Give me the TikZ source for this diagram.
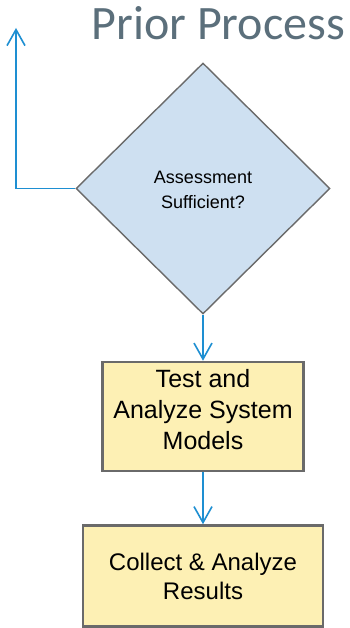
\documentclass[tikz,border=0pt]{standalone}
\usepackage{fontspec}
\setmainfont{Liberation Sans}
\newfontfamily\titlefont{Carlito}
\usetikzlibrary{shapes.geometric,arrows.meta}
\definecolor{flowblue}{HTML}{1E8FD2}
\definecolor{dfill}{HTML}{CEE0F1}
\definecolor{bfill}{HTML}{FDF0B4}
\definecolor{bord}{HTML}{6A6A6A}
\definecolor{titlecol}{HTML}{5B6F7B}
\tikzset{
  flow/.style={draw=flowblue, line width=1.6pt, -{Straight Barb[length=16pt,width=18pt,line width=1.6pt]}},
  decision/.style={diamond, draw=bord, line width=1.4pt, fill=dfill, minimum width=254pt, minimum height=251pt, inner sep=0pt},
  dtext/.style={align=center, inner sep=0pt, font=\fontsize{18}{25}\selectfont},
  procbox/.style={rectangle, draw=bord, line width=2.6pt, fill=bfill, inner sep=0pt},
  ptext/.style={align=center, inner sep=0pt},
}
\begin{document}
\begin{tikzpicture}[x=1pt,y=-1pt]
\useasboundingbox (0,0) rectangle (350,628);
\fill[white] (0,0) rectangle (350,628);
\node[anchor=base east, text=titlecol, font=\titlefont\fontsize{48}{52}\selectfont, inner sep=0pt] (title) at (345,40) {Prior Process};
\node[decision] (dec) at (203,188.5) {};
\node[dtext] (dect) at (203,190) {Assessment\\Sufficient?};
\node[procbox, minimum width=201pt, minimum height=109pt] (b1) at (203,416.5) {};
\node[ptext, font=\fontsize{25}{31}\selectfont] (b1t) at (203,410) {Test and\\Analyze System\\Models};
\node[procbox, minimum width=240pt, minimum height=101pt] (b2) at (203,576) {};
\node[ptext, font=\fontsize{24}{29}\selectfont] (b2t) at (203,576) {Collect \& Analyze\\Results};
\coordinate (up) at (16,28);
\draw[flow] (dec.west) -| (up);
\draw[flow] (dec.south) -- (b1.north);
\draw[flow] (b1.south) -- (b2.north);
\end{tikzpicture}
\end{document}
